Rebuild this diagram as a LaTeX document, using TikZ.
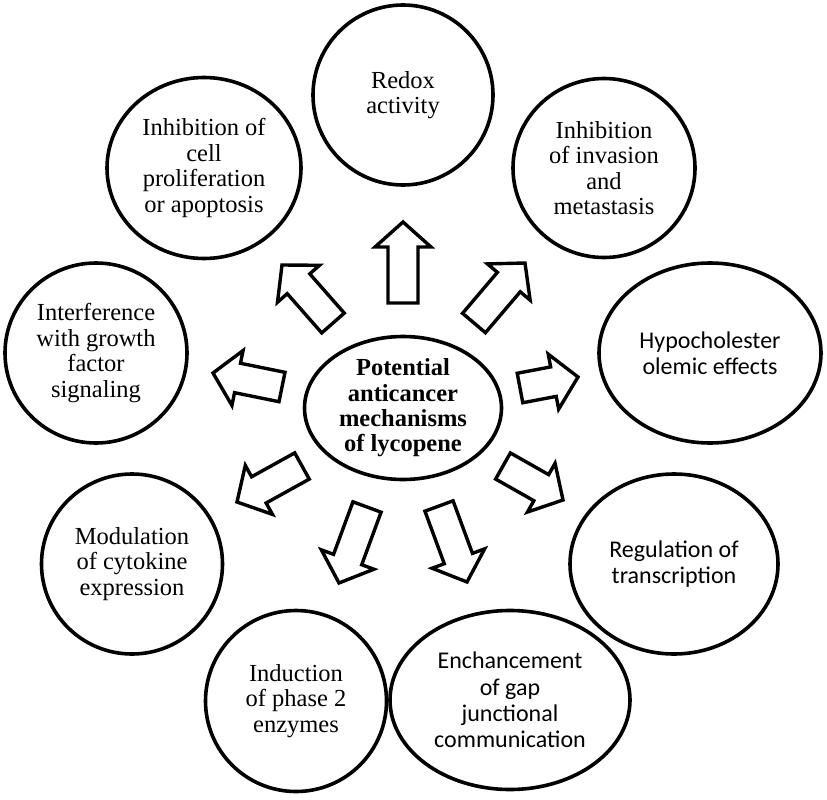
\documentclass[tikz,border=0pt]{standalone}
\usepackage{fontspec}
\setmainfont{Liberation Serif}
\newfontfamily\calibri{Carlito}
\usetikzlibrary{shapes.geometric,calc}
\tikzset{
  bub/.style={ellipse, draw, line width=3.6pt, inner sep=0pt, align=center,
    font=\fontsize{24.5}{25.4}\selectfont},
  sbub/.style={bub, font=\calibri\fontsize{24}{26.2}\selectfont},
  cbub/.style={bub, font=\bfseries\fontsize{24.5}{25.4}\selectfont},
  blockarrow/.style={draw, line width=3.4pt, line join=miter, fill=white}
}
\newcommand\blockarr[3]{%
  \coordinate (#3t) at (#1);
  \coordinate (#3h) at (#2);
  \coordinate (#3b) at ($(#3h)!25pt!(#3t)$);
  \draw[blockarrow] ($(#3t)!15pt!90:(#3h)$) -- ($(#3b)!15pt!90:(#3h)$) -- ($(#3b)!28pt!90:(#3h)$) -- (#3h) -- ($(#3b)!28pt!-90:(#3h)$) -- ($(#3b)!15pt!-90:(#3h)$) -- ($(#3t)!15pt!-90:(#3h)$) -- cycle;}
\begin{document}
\begin{tikzpicture}[x=1pt,y=-1pt]
\useasboundingbox (0,0) rectangle (827,800);
\node[cbub, minimum width=197pt, minimum height=143pt] (center) at (403,408) {Potential\\anticancer\\mechanisms\\of lycopene};
\node[bub, minimum width=180pt, minimum height=180pt] (redox) at (403,95) {Redox\\activity};
\node[bub, minimum width=194pt, minimum height=181pt] (cell) at (204,168) {Inhibition of\\cell\\proliferation\\or apoptosis};
\node[bub, minimum width=182pt, minimum height=179pt] (invasion) at (604,168) {Inhibition\\of invasion\\and\\metastasis};
\node[sbub, minimum width=222pt, minimum height=180pt] (hypo) at (710,353) {Hypocholester\\olemic effects};
\node[bub, minimum width=182pt, minimum height=180pt] (interf) at (96,353) {Interference\\with growth\\factor\\signaling};
\node[bub, minimum width=181pt, minimum height=180pt] (modul) at (132,564) {Modulation\\of cytokine\\expression};
\node[sbub, minimum width=208pt, minimum height=180pt] (regul) at (674,564) {Regulation of\\transcription};
\node[bub, minimum width=181pt, minimum height=181pt] (induct) at (296,701) {Induction\\of phase 2\\enzymes};
\node[sbub, minimum width=240pt, minimum height=179pt] (gap) at (510,700) {Enchancement\\of gap\\junctional\\communication};
\blockarr{403,303}{403,222}{a1}
\blockarr{333,323}{282,265}{a2}
\blockarr{474,323}{525,263}{a3}
\blockarr{282,387}{213,373}{a4}
\blockarr{520,388}{578,377}{a5}
\blockarr{302,466}{237,502}{a6}
\blockarr{503,466}{563,500}{a7}
\blockarr{367,507}{339,583}{a8}
\blockarr{439,506}{467,582}{a9}
\end{tikzpicture}
\end{document}
